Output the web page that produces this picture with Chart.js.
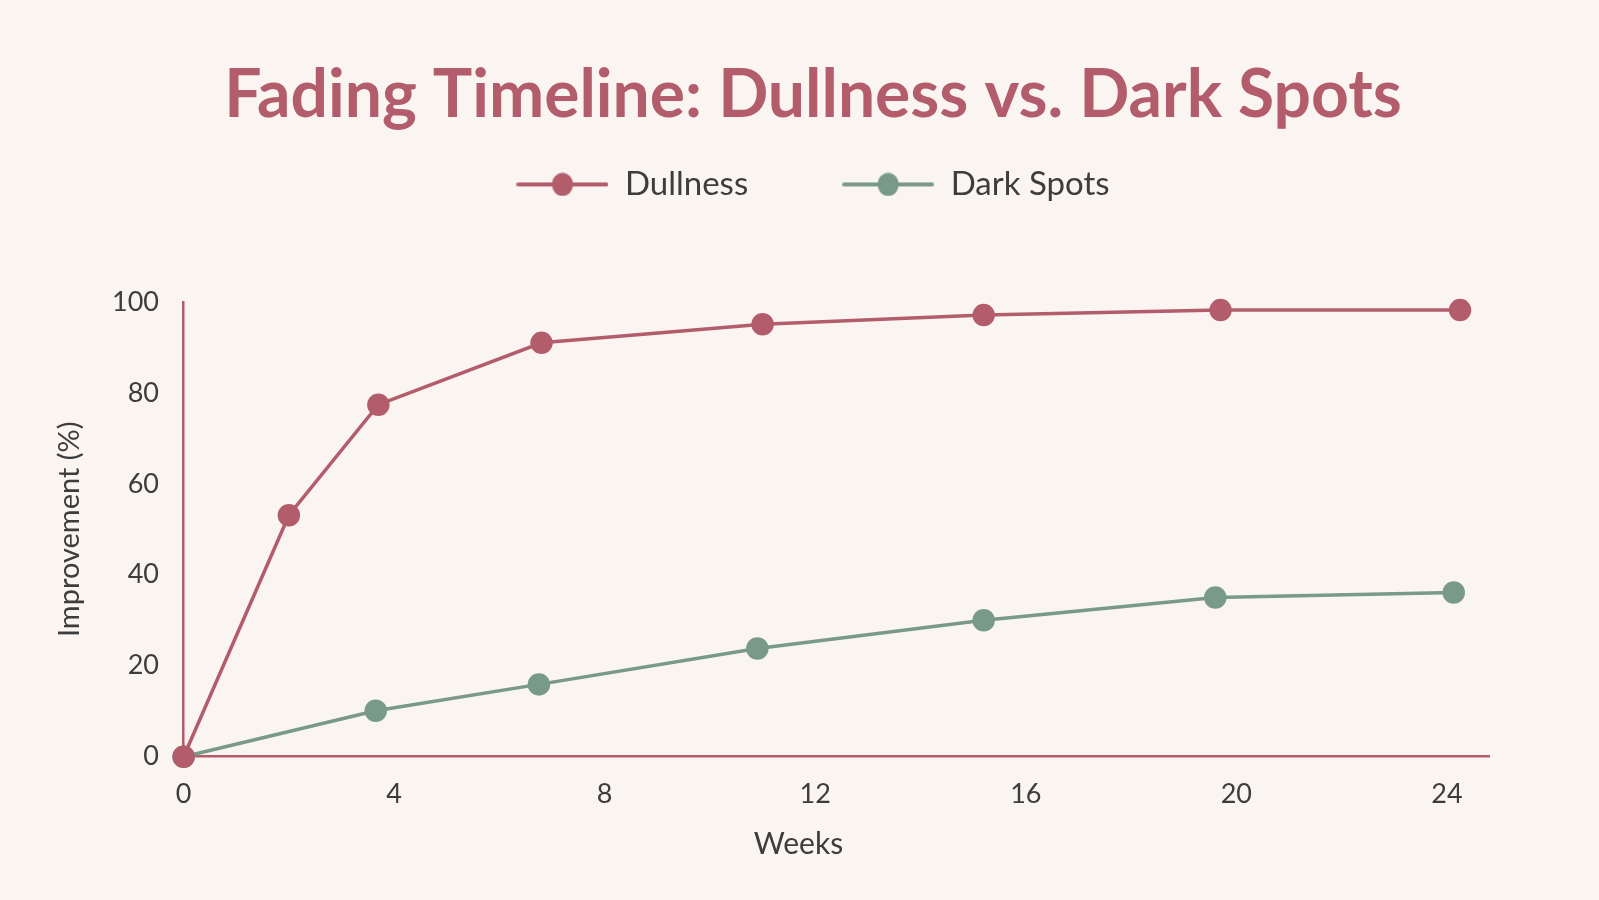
<!DOCTYPE html>
<html>
<head>
<meta charset="utf-8">
<script src="https://cdn.jsdelivr.net/npm/chart.js@4.4.1/dist/chart.umd.min.js"></script>
<style>
  html, body { margin: 0; padding: 0; background: #faf5f1; }
  #wrap { width: 1599px; height: 900px; }
</style>
</head>
<body>
<div id="wrap"><canvas id="c" width="1599" height="900"></canvas></div>
<script>
const titleText = 'Fading Timeline: Dullness vs. Dark Spots';
const seriesNames = ['Dullness', 'Dark Spots'];
const dullnessWeeks = [0, 2.0, 3.7, 6.8, 11.0, 15.2, 19.7, 24.25];
const dullnessValues = [0, 53.1, 77.4, 91.0, 95.1, 97.1, 98.2, 98.2];
const darkWeeks = [0, 3.65, 6.75, 10.9, 15.2, 19.6, 24.13];
const darkValues = [0, 10.1, 15.9, 23.8, 30.0, 35.0, 36.1];
const xTicks = [0, 4, 8, 12, 16, 20, 24];
const yTicks = [0, 20, 40, 60, 80, 100];

const PINK = '#b35d6c';
const GREEN = '#789a87';
const TEXT = '#3d3d3d';

function legendImage(color) {
  const cv = document.createElement('canvas');
  cv.width = 92; cv.height = 24;
  const g = cv.getContext('2d');
  g.strokeStyle = color; g.lineWidth = 4; g.lineCap = 'round';
  g.beginPath(); g.moveTo(2, 12); g.lineTo(90, 12); g.stroke();
  g.fillStyle = color;
  g.beginPath(); g.ellipse(46, 12, 10.5, 11.5, 0, 0, Math.PI * 2); g.fill();
  return cv;
}
const legendImgs = [legendImage(PINK), legendImage(GREEN)];

const toPts = (xs, ys) => xs.map((x, i) => ({ x: x, y: ys[i] }));

const layoutTweaks = {
  id: 'layoutTweaks',
  beforeInit(chart) {
    const fitOrig = chart.legend.fit;
    chart.legend.fit = function () { fitOrig.call(this); this.height += 91; };
  },
  afterLayout(chart) {
    // centre title and legend over the same span as the reference
    if (chart.titleBlock) chart.titleBlock.left = 137;
    if (chart.legend) chart.legend.left = 137;
    const xs = chart.scales.x;
    if (xs && !xs._titleShifted) {
      const origDrawTitle = xs.drawTitle;
      xs.drawTitle = function () {
        const l = this.left, r = this.right;
        const d = (l + r) / 2 - 798.5;
        this.left = l - d; this.right = r - d;
        origDrawTitle.call(this);
        this.left = l; this.right = r;
      };
      xs._titleShifted = true;
    }
  }
};

new Chart(document.getElementById('c'), {
  type: 'line',
  data: {
    datasets: [
      {
        label: seriesNames[0],
        data: toPts(dullnessWeeks, dullnessValues),
        borderColor: PINK, backgroundColor: PINK,
        pointBackgroundColor: PINK, pointBorderColor: PINK,
        borderWidth: 3.5, pointRadius: 9.5, pointHoverRadius: 9.5,
        tension: 0, clip: false, order: 0
      },
      {
        label: seriesNames[1],
        data: toPts(darkWeeks, darkValues),
        borderColor: GREEN, backgroundColor: GREEN,
        pointBackgroundColor: GREEN, pointBorderColor: GREEN,
        borderWidth: 3.5, pointRadius: 9.5, pointHoverRadius: 9.5,
        tension: 0, clip: false, order: 1
      }
    ]
  },
  options: {
    responsive: false,
    animation: false,
    devicePixelRatio: 1,
    layout: { padding: { left: 53, right: 110, top: 0, bottom: 37.6 } },
    plugins: {
      tooltip: { enabled: false },
      title: {
        display: true, text: titleText, color: PINK,
        font: { family: 'Lato', size: 66, weight: 'bold' },
        padding: { top: 56.4, bottom: -61.7 }
      },
      legend: {
        display: true, position: 'top',
        labels: {
          usePointStyle: true, pointStyleWidth: 92,
          color: TEXT, padding: 94,
          font: { family: 'Lato', size: 33 },
          generateLabels(chart) {
            return chart.data.datasets.map((ds, i) => ({
              text: ds.label, pointStyle: legendImgs[i],
              fillStyle: ds.borderColor, strokeStyle: ds.borderColor,
              lineWidth: 0, fontColor: TEXT, hidden: false, datasetIndex: i
            }));
          }
        }
      }
    },
    scales: {
      x: {
        type: 'linear', min: 0, max: 24.8,
        afterBuildTicks(scale) { scale.ticks = xTicks.map(v => ({ value: v })); },
        grid: { display: false, drawTicks: false },
        border: { display: true, color: PINK, width: 2.5 },
        ticks: { color: TEXT, font: { family: 'Lato', size: 27 }, padding: 21, maxRotation: 0 },
        title: { display: true, text: 'Weeks', color: TEXT, font: { family: 'Lato', size: 30 }, padding: { top: -4.7, bottom: 0 } }
      },
      y: {
        min: 0, max: 100,
        afterBuildTicks(scale) { scale.ticks = yTicks.map(v => ({ value: v })); },
        afterFit(scale) { scale.width = 130.6; },
        grid: { display: false, drawTicks: false },
        border: { display: true, color: PINK, width: 2.5 },
        ticks: { color: TEXT, font: { family: 'Lato', size: 27 }, padding: 24.6 },
        title: { display: true, text: 'Improvement (%)', color: TEXT, font: { family: 'Lato', size: 29 }, padding: { top: -1, bottom: 0 } }
      }
    }
  },
  plugins: [layoutTweaks]
});
</script>
</body>
</html>
